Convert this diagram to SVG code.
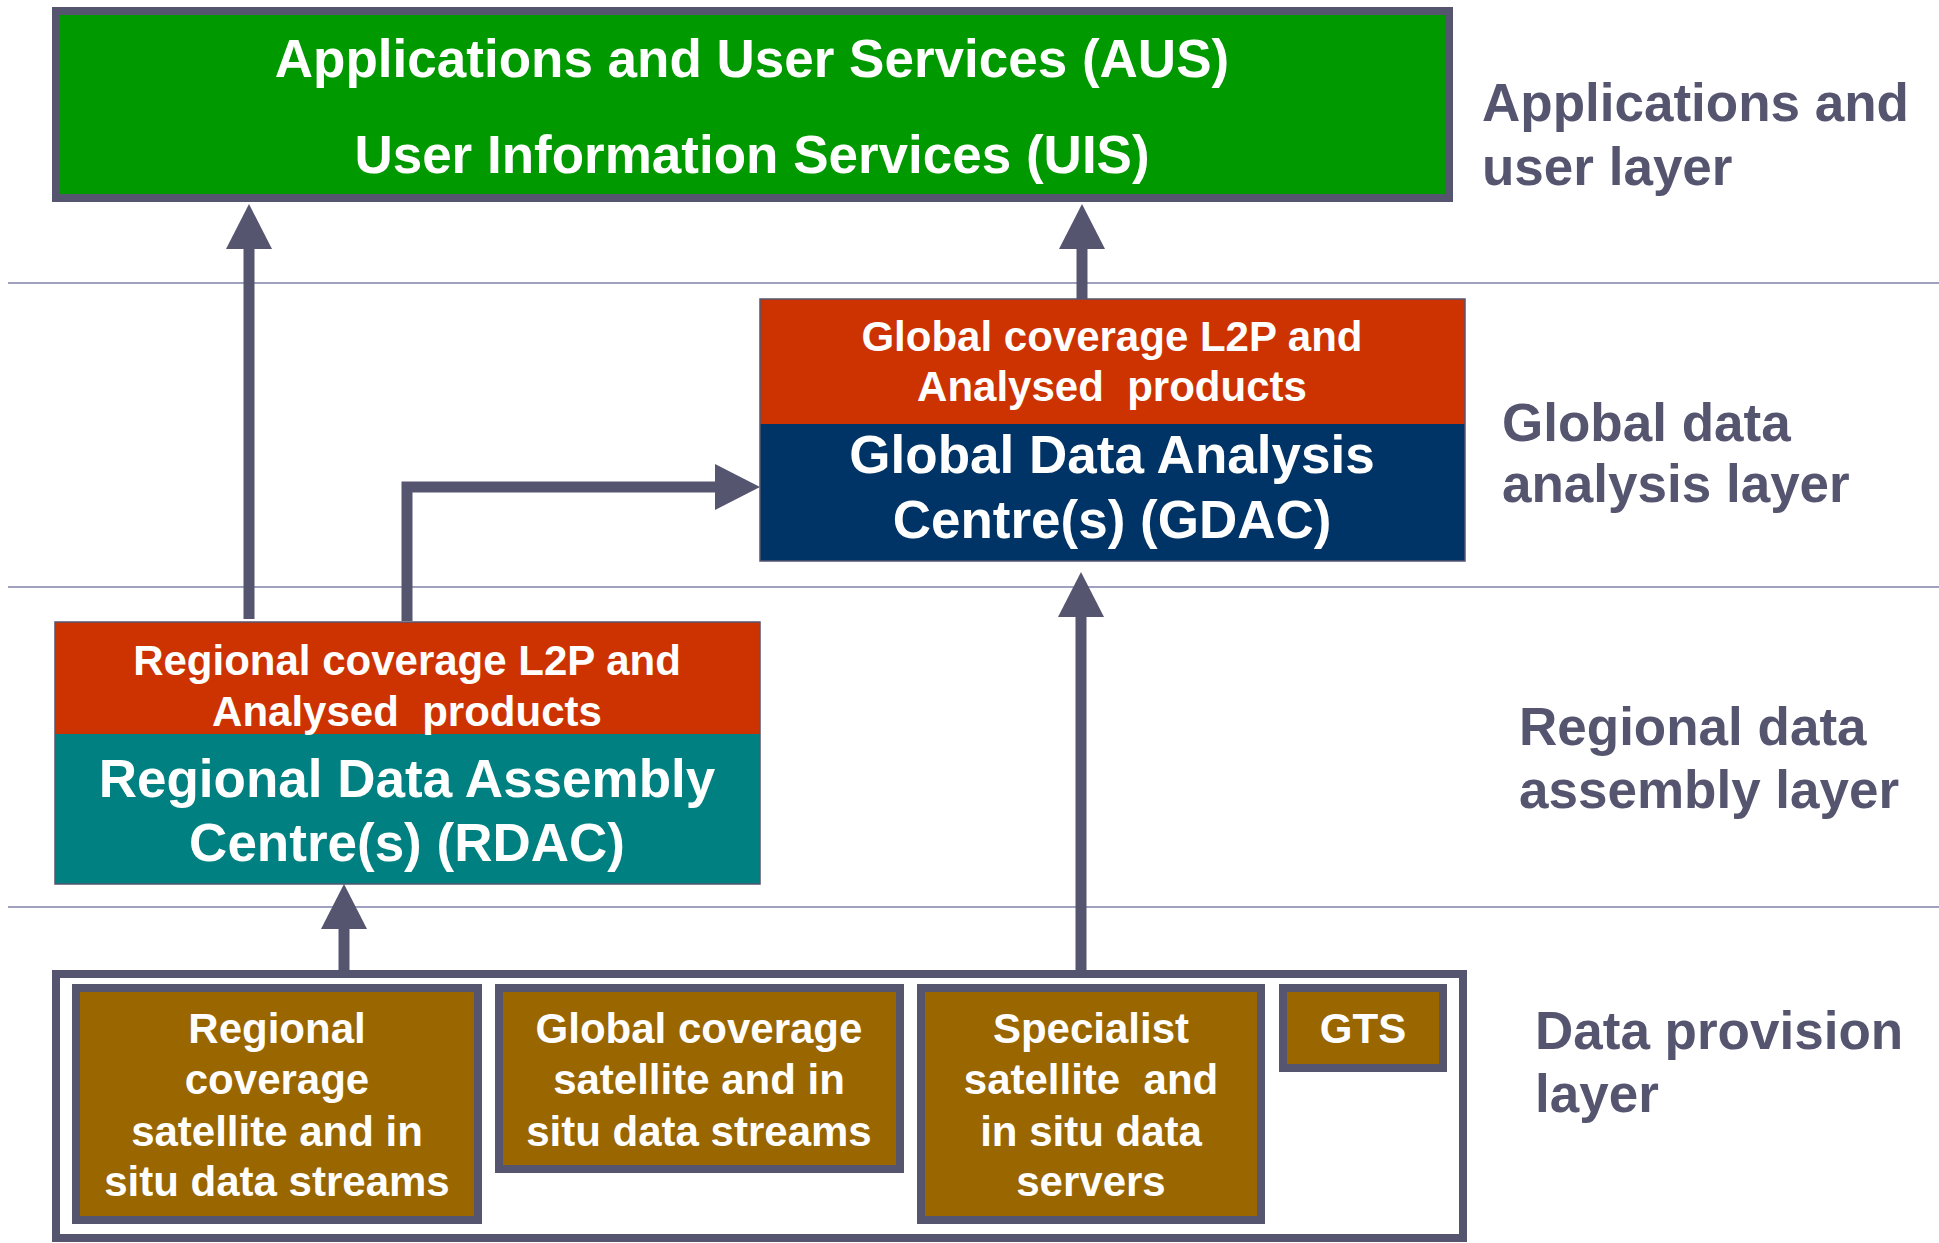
<svg xmlns="http://www.w3.org/2000/svg" width="1939" height="1243" viewBox="0 0 1939 1243">
<style>
.t{font-family:"Liberation Sans",Arial,sans-serif;font-weight:bold;fill:#fff;text-anchor:middle;white-space:pre}
.big{font-size:53px}
.sm{font-size:42px}
.lab{font-family:"Liberation Sans",Arial,sans-serif;font-weight:bold;font-size:53px;fill:#555570}
.layer{stroke:#a0a0c0;stroke-width:2}
.con{fill:none;stroke:#555570;stroke-width:11;marker-end:url(#ah)}
.src{fill:#996600;stroke:#555570;stroke-width:8}
</style>
<defs>
<marker id="ah" markerUnits="userSpaceOnUse" markerWidth="45" markerHeight="46" viewBox="0 0 45 46" refX="0" refY="23" orient="auto" overflow="visible">
<path d="M0,0 L45,23 L0,46 Z" fill="#555570"/>
</marker>
</defs>
<rect width="1939" height="1243" fill="#fff"/>
<g id="layer-lines">
<line class="layer" x1="8" y1="283" x2="1939" y2="283"/>
<line class="layer" x1="8" y1="587" x2="1939" y2="587"/>
<line class="layer" x1="8" y1="907" x2="1939" y2="907"/>
</g>
<g id="connectors">
<path class="con" d="M249,619 V249"/>
<path class="con" d="M1082,299 V249"/>
<path class="con" d="M407,621 V487 H715"/>
<path class="con" d="M344,972 V929"/>
<path class="con" d="M1081,972 V617"/>
</g>
<g id="aus">
<rect x="56" y="11" width="1393" height="187" fill="#009900" stroke="#555570" stroke-width="8"/>
<text class="t big" x="752" y="77">Applications and User Services (AUS)</text>
<text class="t big" x="752" y="173">User Information Services (UIS)</text>
</g>
<g id="gdac">
<rect x="760" y="299" width="705" height="125" fill="#cc3300"/>
<rect x="760" y="424" width="705" height="137" fill="#003366"/>
<rect x="760" y="299" width="705" height="262" fill="none" stroke="#555570" stroke-width="1.5"/>
<text class="t sm" x="1112" y="351">Global coverage L2P and</text>
<text class="t sm" x="1112" y="401" xml:space="preserve">Analysed  products</text>
<text class="t big" x="1112" y="473">Global Data Analysis</text>
<text class="t big" x="1112" y="538">Centre(s) (GDAC)</text>
</g>
<g id="rdac">
<rect x="55" y="622" width="705" height="112" fill="#cc3300"/>
<rect x="55" y="734" width="705" height="150" fill="#008080"/>
<rect x="55" y="622" width="705" height="262" fill="none" stroke="#555570" stroke-width="1.5"/>
<text class="t sm" x="407" y="675">Regional coverage L2P and</text>
<text class="t sm" x="407" y="726" xml:space="preserve">Analysed  products</text>
<text class="t big" x="407" y="797">Regional Data Assembly</text>
<text class="t big" x="407" y="861">Centre(s) (RDAC)</text>
</g>
<g id="provision">
<rect x="56" y="974" width="1407" height="264" fill="none" stroke="#555570" stroke-width="8"/>
</g>
<g id="regional-streams">
<rect class="src" x="76" y="988" width="402" height="232"/>
<text class="t sm" x="277" y="1043">Regional</text>
<text class="t sm" x="277" y="1094">coverage</text>
<text class="t sm" x="277" y="1146">satellite and in</text>
<text class="t sm" x="277" y="1196">situ data streams</text>
</g>
<g id="global-streams">
<rect class="src" x="499" y="988" width="401" height="181"/>
<text class="t sm" x="699" y="1043">Global coverage</text>
<text class="t sm" x="699" y="1094">satellite and in</text>
<text class="t sm" x="699" y="1146">situ data streams</text>
</g>
<g id="specialist">
<rect class="src" x="921" y="988" width="340" height="232"/>
<text class="t sm" x="1091" y="1043">Specialist</text>
<text class="t sm" x="1091" y="1094" xml:space="preserve">satellite  and</text>
<text class="t sm" x="1091" y="1146">in situ data</text>
<text class="t sm" x="1091" y="1196">servers</text>
</g>
<g id="gts">
<rect class="src" x="1283" y="988" width="160" height="80"/>
<text class="t sm" x="1363" y="1043">GTS</text>
</g>
<g id="labels">
<text class="lab" x="1482" y="121">Applications and</text>
<text class="lab" x="1482" y="185">user layer</text>
<text class="lab" x="1502" y="441">Global data</text>
<text class="lab" x="1502" y="502">analysis layer</text>
<text class="lab" x="1519" y="745">Regional data</text>
<text class="lab" x="1519" y="808">assembly layer</text>
<text class="lab" x="1535" y="1049">Data provision</text>
<text class="lab" x="1535" y="1112">layer</text>
</g>
</svg>
